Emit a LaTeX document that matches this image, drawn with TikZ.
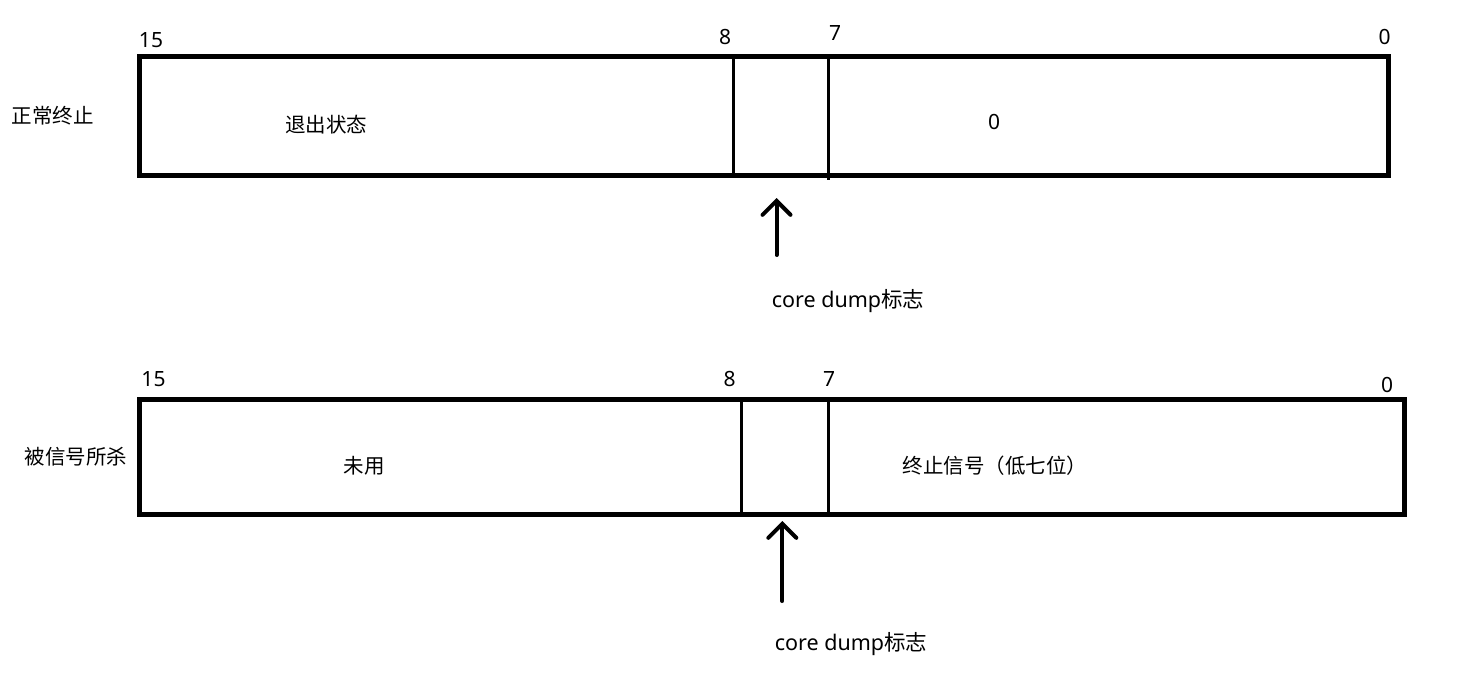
\documentclass[tikz,border=0pt]{standalone}
\usepackage{fontspec}
\setmainfont{Noto Sans CJK SC}
\newfontfamily\latinfont{Noto Sans}
\usetikzlibrary{arrows.meta}
\begin{document}
\begin{tikzpicture}[x=1pt,y=-1pt,
  outerbox/.style={line width=5pt},
  divider/.style={line width=3.5pt},
  lbl/.style={inner sep=0pt,font=\fontsize{20.5}{24}\selectfont},
  corelbl/.style={inner sep=0pt,font=\fontsize{21.5}{24}\selectfont},
  num/.style={inner sep=0pt,font=\fontsize{21}{24}\selectfont\latinfont},
  arr/.style={line width=4pt,line cap=round,-{Straight Barb[length=14pt,width=28pt,line cap=round]}}]
\useasboundingbox[fill=white] (0,0) rectangle (1479,679);
% ---- top register ----
\coordinate (t1nw) at (139.5,57);
\coordinate (t1se) at (1388,175.5);
\draw[outerbox] (t1nw) rectangle (t1se);
\coordinate (t1d8a) at (733.5,57);  \coordinate (t1d8b) at (733.5,175.5);
\coordinate (t1d7a) at (828.5,57);  \coordinate (t1d7b) at (828.5,180);
\draw[divider] (t1d8a) -- (t1d8b);
\draw[divider] (t1d7a) -- (t1d7b);
\node[num] (t15) at (151,40) {15};
\node[num] (t8) at (725,37) {8};
\node[num] (t7) at (835,33.5) {7};
\node[num] (t0) at (1384.5,36.5) {0};
\node[lbl] (tname) at (53,116) {正常终止};
\node[lbl] (tstat) at (326,125) {退出状态};
\node[num] (tzero) at (994,122) {0};
\coordinate (a1tail) at (776.5,255);
\coordinate (a1tip) at (776.5,198);
\draw[arr] (a1tail) -- (a1tip);
\node[corelbl] (tcore) at (848,301) {{\latinfont core dump}标志};
% ---- bottom register ----
\coordinate (b1nw) at (139.5,399);
\coordinate (b1se) at (1404,514);
\draw[outerbox] (b1nw) rectangle (b1se);
\coordinate (b1d8a) at (741.3,399); \coordinate (b1d8b) at (741.3,514);
\coordinate (b1d7a) at (828.7,399); \coordinate (b1d7b) at (828.7,517);
\draw[divider] (b1d8a) -- (b1d8b);
\draw[divider] (b1d7a) -- (b1d7b);
\node[num] (b15) at (153.5,379.5) {15};
\node[num] (b8) at (729.5,379) {8};
\node[num] (b7) at (829,379) {7};
\node[num] (b0) at (1387,384.5) {0};
\node[lbl] (bname) at (76,457) {被信号所杀};
\node[lbl] (bunused) at (364,466) {未用};
\node[lbl] (bsig) at (995,466) {终止信号（低七位）};
\coordinate (a2tail) at (782.3,601);
\coordinate (a2tip) at (782.3,521);
\draw[arr] (a2tail) -- (a2tip);
\node[corelbl] (bcore) at (851,644) {{\latinfont core dump}标志};
\end{tikzpicture}
\end{document}
